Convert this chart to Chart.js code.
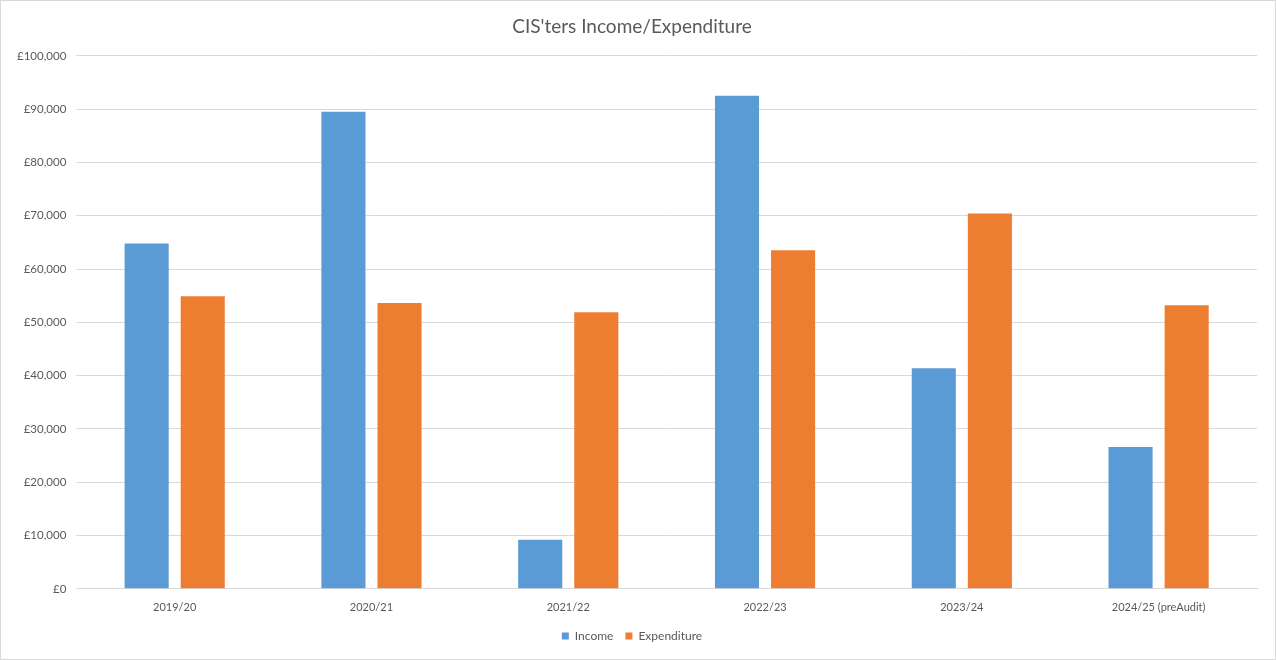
<!DOCTYPE html>
<html>
<head>
<meta charset="utf-8">
<script src="https://cdn.jsdelivr.net/npm/chart.js@4"></script>
<style>
  html, body { margin: 0; padding: 0; background: #fff; }
  #wrap { width: 1276px; height: 660px; position: relative; box-sizing: border-box; border: 1px solid #d9d9d9; }
</style>
</head>
<body>
<div id="wrap"><canvas id="grafico"></canvas></div>
<script>
// dados
const anos = ['2019/20', '2020/21', '2021/22', '2022/23', '2023/24', '2024/25 (preAudit)'];
const receitas = [64800, 89500, 9200, 92500, 41400, 26600];
const despesas = [54900, 53600, 51900, 63500, 70400, 53200];

const corTexto = '#595959';
const corGrade = '#d9d9d9';

let ctx = document.getElementById('grafico');

new Chart(ctx, {
    type: 'bar',
    data: {
        labels: anos,
        datasets: [{
            label: 'Income',
            data: receitas,
            backgroundColor: '#5b9bd5',
            categoryPercentage: 0.57,
            barPercentage: 0.786
        },
        {
            label: 'Expenditure',
            data: despesas,
            backgroundColor: '#ed7d31',
            categoryPercentage: 0.57,
            barPercentage: 0.786
        }]
    },
    options: {
        responsive: true,
        maintainAspectRatio: false,
        animation: false,
        layout: { padding: { left: 6, right: 18, top: 4, bottom: 7 } },
        plugins: {
            title: {
                display: true,
                text: "CIS'ters Income/Expenditure",
                color: corTexto,
                font: { family: 'Lato', size: 19, weight: 'normal' },
                padding: { top: 10, bottom: 18 }
            },
            legend: {
                position: 'bottom',
                labels: {
                    color: corTexto,
                    font: { family: 'Lato', size: 12 },
                    boxWidth: 7,
                    boxHeight: 7,
                    padding: 12
                }
            },
            tooltip: { enabled: false }
        },
        scales: {
            x: {
                grid: { display: false },
                border: { color: corGrade },
                ticks: { color: corTexto, font: { family: 'Lato', size: 11 }, padding: 4 }
            },
            y: {
                min: 0,
                max: 100000,
                grid: { color: corGrade, drawTicks: false },
                border: { display: false },
                ticks: {
                    stepSize: 10000,
                    color: corTexto,
                    font: { family: 'Lato', size: 11.5 },
                    padding: 10,
                    callback: (v) => '£' + v.toLocaleString('en-GB')
                }
            }
        }
    }
});
</script>
</body>
</html>
